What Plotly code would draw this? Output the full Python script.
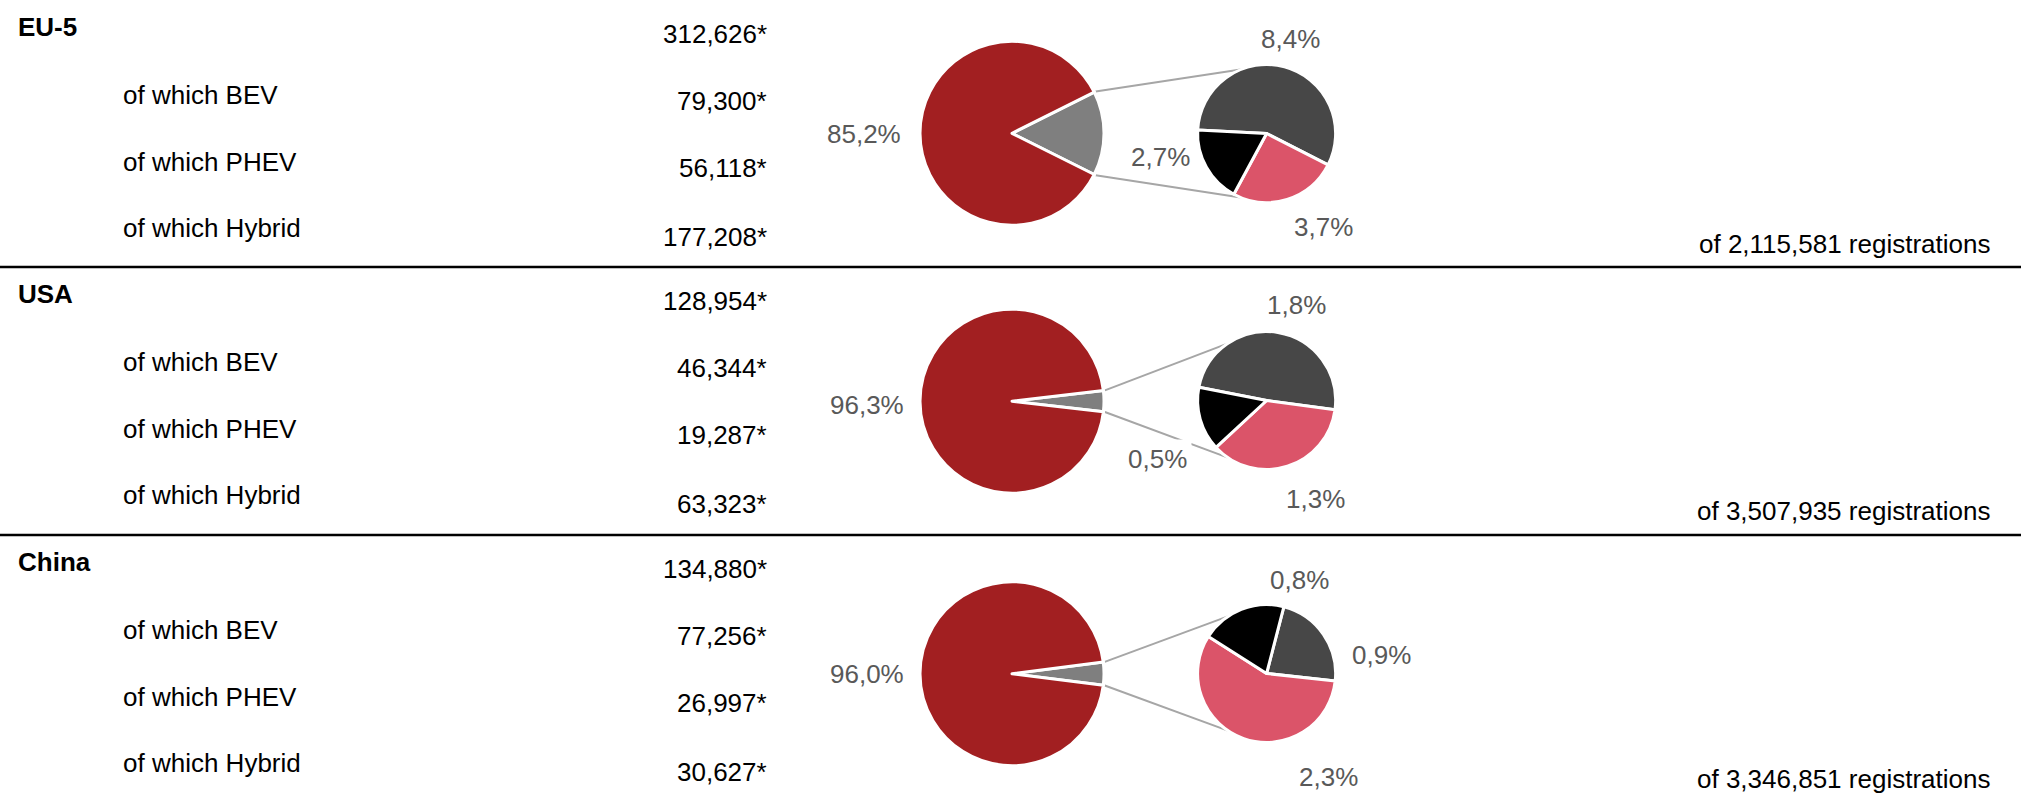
import math
import plotly.graph_objects as go

W, H = 2021, 803

# ---------------- data ----------------
regions = ["EU-5", "USA", "China"]
sub_labels = ["of which BEV", "of which PHEV", "of which Hybrid"]
electrified = [312626, 128954, 134880]
bev = [79300, 46344, 77256]
phev = [56118, 19287, 26997]
hybrid = [177208, 63323, 30627]
registrations = [2115581, 3507935, 3346851]

# ---------------- styles / layout ----------------
RED = "#A21F21"
GRAY = "#7F7F7F"
DGRAY = "#474747"
PINK = "#DB5469"
BLACK = "#000000"
LABEL_GRAY = "#595959"
LINE_GRAY = "#A6A6A6"
FONT = "Liberation Sans, Arial, sans-serif"
FS = 26

row_top = [0, 267, 535]
label_dy = [27, 95, 162, 228]
value_dy = [34, 101, 168, 237]
reg_dy = 244
label_x_head = 16
label_x_sub = 121
value_x = 769
reg_x = 1992

main_cx = 1012
main_cy = [133.3, 401.2, 673.7]
main_r = 92
sub_cx = 1266.6
sub_cy = [133.5, 400.5, 673.5]
sub_r = 69
sub_rotation = [-87, -79, 14.5]
connector_end_angle = [108, 120, 120]
separators_y = [267, 535]

main_pct_pos = [(863.5, 133.5), (867, 405), (867, 673.5)]
sub_pct_pos = [  # hybrid, bev, phev
    [(1290.5, 38.5), (1323.3, 227), (1160.5, 157)],
    [(1296, 305), (1315, 498.5), (1157, 458.5)],
    [(1381, 655), (1328.5, 777), (1299.5, 580)],
]


def pct(v, total):
    return f"{100 * v / total:.1f}".replace(".", ",") + "%"


def px_dom_x(cx, r):
    return [(cx - r) / W, (cx + r) / W]


def px_dom_y(cy, r):
    return [1 - (cy + r) / H, 1 - (cy - r) / H]


fig = go.Figure()

# invisible pixel axis for annotations & shapes
fig.add_trace(go.Scatter(x=[0, W], y=[0, H], mode="markers",
                         marker=dict(opacity=0), hoverinfo="skip", showlegend=False))

annotations = []
shapes = []

for i, reg in enumerate(regions):
    total = registrations[i]
    elec = electrified[i]
    share = elec / total

    # main pie: electrified (gray) vs rest (red), gray centered at 3 o'clock
    fig.add_trace(go.Pie(
        values=[elec, total - elec],
        labels=["Electrified", "Other"],
        marker=dict(colors=[GRAY, RED], line=dict(color="white", width=3)),
        sort=False, direction="clockwise",
        rotation=90 - share * 180,
        textinfo="none", hoverinfo="skip", showlegend=False,
        domain=dict(x=px_dom_x(main_cx, main_r), y=px_dom_y(main_cy[i], main_r)),
    ))

    # secondary pie: hybrid, BEV, PHEV
    fig.add_trace(go.Pie(
        values=[hybrid[i], bev[i], phev[i]],
        labels=["Hybrid", "BEV", "PHEV"],
        marker=dict(colors=[DGRAY, PINK, BLACK], line=dict(color="white", width=3)),
        sort=False, direction="clockwise",
        rotation=sub_rotation[i],
        textinfo="none", hoverinfo="skip", showlegend=False,
        domain=dict(x=px_dom_x(sub_cx, sub_r), y=px_dom_y(sub_cy[i], sub_r)),
    ))

    # connector lines
    half = math.radians(share * 180)
    rs = main_r + 1.5
    phi = math.radians(connector_end_angle[i])
    re_ = sub_r - 1
    for sgn in (1, -1):
        x0 = main_cx + rs * math.cos(half)
        y0 = main_cy[i] - sgn * rs * math.sin(half)
        x1 = sub_cx + re_ * math.cos(phi)
        y1 = sub_cy[i] - sgn * re_ * math.sin(phi)
        shapes.append(dict(type="line", xref="x", yref="y", x0=x0, y0=y0, x1=x1, y1=y1,
                           line=dict(color=LINE_GRAY, width=2), layer="below"))

    # text: region heading & sub labels
    top = row_top[i]
    annotations.append(dict(x=label_x_head, y=top + label_dy[0], text=f"<b>{reg}</b>",
                            xanchor="left", yanchor="middle", showarrow=False,
                            font=dict(family=FONT, size=FS, color="black")))
    for k, lab in enumerate(sub_labels):
        annotations.append(dict(x=label_x_sub, y=top + label_dy[k + 1], text=lab,
                                xanchor="left", yanchor="middle", showarrow=False,
                                font=dict(family=FONT, size=FS, color="black")))
    vals = [elec, bev[i], phev[i], hybrid[i]]
    for k, v in enumerate(vals):
        annotations.append(dict(x=value_x, y=top + value_dy[k], text=f"{v:,}*",
                                xanchor="right", yanchor="middle", showarrow=False,
                                font=dict(family=FONT, size=FS, color="black")))
    annotations.append(dict(x=reg_x, y=top + reg_dy, text=f"of {total:,} registrations",
                            xanchor="right", yanchor="middle", showarrow=False,
                            font=dict(family=FONT, size=FS, color="black")))

    # percentage labels
    mx, my = main_pct_pos[i]
    annotations.append(dict(x=mx, y=my, text=pct(total - elec, total),
                            xanchor="center", yanchor="middle", showarrow=False,
                            font=dict(family=FONT, size=FS, color=LABEL_GRAY)))
    for (sx, sy), v in zip(sub_pct_pos[i], [hybrid[i], bev[i], phev[i]]):
        annotations.append(dict(x=sx, y=sy, text=pct(v, total),
                                xanchor="center", yanchor="middle", showarrow=False,
                                bgcolor="white", borderpad=4,
                                font=dict(family=FONT, size=FS, color=LABEL_GRAY)))

for yy in separators_y:
    shapes.append(dict(type="line", xref="x", yref="y", x0=0, x1=W, y0=yy, y1=yy,
                       line=dict(color="black", width=2.5), layer="above"))

fig.update_layout(
    width=W, height=H,
    margin=dict(l=0, r=0, t=0, b=0),
    paper_bgcolor="white", plot_bgcolor="white",
    xaxis=dict(range=[0, W], visible=False, fixedrange=True),
    yaxis=dict(range=[H, 0], visible=False, fixedrange=True),
    annotations=annotations,
    shapes=shapes,
    showlegend=False,
)

fig.write_html(
    "out.html",
    config={"displayModeBar": False},
    post_script="document.body.style.margin='0';document.body.style.overflow='hidden';",
)
